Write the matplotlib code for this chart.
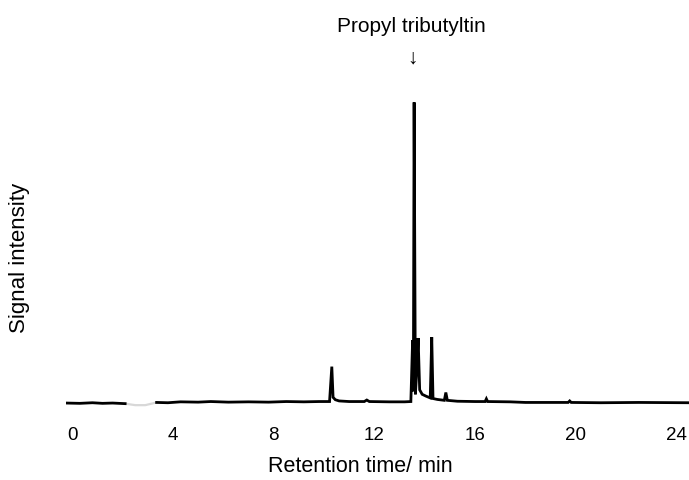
import matplotlib.pyplot as plt
import numpy as np

plt.rcParams['font.family'] = ['Liberation Sans', 'DejaVu Sans']

# chromatogram vertices (time in min, relative signal)
time_min = [-0.25, 0.3, 0.8, 1.2, 1.6, 2.1, np.nan,
            3.35, 3.8, 4.3, 5.0, 5.5, 6.2, 7.0, 7.8, 8.5, 9.2, 9.8,
            10.22, 10.31, 10.36, 10.45, 10.6, 11.0, 11.6, 11.7, 11.8,
            12.6, 13.2, 13.45, 13.52, 13.55, 13.58, 13.63, 13.68, 13.74,
            13.8, 13.9, 14.05, 14.22, 14.28, 14.33, 14.5, 14.78, 14.84,
            14.9, 15.3, 16.0, 16.4, 16.45, 16.5, 17.4, 18.0, 19.0, 19.7,
            19.76, 19.82, 21.0, 22.5, 24.5]
signal = [0.1, 0.0, 0.2, 0.0, 0.1, -0.1, np.nan,
          0.3, 0.2, 0.5, 0.4, 0.6, 0.4, 0.5, 0.4, 0.6, 0.5, 0.6,
          0.6, 12.2, 2.0, 1.2, 0.8, 0.6, 0.6, 1.1, 0.6,
          0.5, 0.5, 0.6, 21.0, 4.0, 100.0, 3.0, 10.0, 21.7,
          4.5, 3.0, 2.4, 1.8, 22.0, 1.6, 1.3, 1.0, 3.6,
          1.0, 0.7, 0.6, 0.6, 1.5, 0.6, 0.5, 0.3, 0.3, 0.3,
          0.8, 0.3, 0.2, 0.3, 0.2]

# faint stretch of the trace around 2-3.4 min
gap_time = [2.1, 2.5, 2.9, 3.35]
gap_signal = [-0.1, -0.6, -0.6, 0.3]

xticks = [0, 4, 8, 12, 16, 20, 24]
peak_label = "Propyl tributyltin"

fig = plt.figure(figsize=(6.89, 4.81), dpi=100)
ax = fig.add_axes([66 / 689, 61 / 481, 623 / 689, 325 / 481])

ax.plot(gap_time, gap_signal, color="#d8d8d8", lw=1.6)
ax.plot(time_min, signal, color="black", lw=2.0, solid_joinstyle="miter")

ax.set_xlim(-0.25, 24.5)
ax.set_ylim(-5.2, 102.76)
for s in ax.spines.values():
    s.set_visible(False)
ax.set_yticks([])
ax.set_xticks(xticks)
ax.set_xticklabels([str(t) for t in xticks])
ax.tick_params(axis="x", length=0, pad=5, labelsize=13.5)

fig.text(360 / 689, 1 - 467 / 481, "Retention time/ min", ha="center", va="center", fontsize=15.5)
fig.text(20 / 689, 1 - 258 / 481, "Signal intensity", ha="center", va="center",
         rotation=90, fontsize=16)
fig.text(411.5 / 689, 1 - 26 / 481, peak_label, ha="center", va="center", fontsize=15)
fig.text(412 / 689, 1 - 58 / 481, "\u2193", ha="center", va="center", fontsize=15)

fig.savefig("out.png", dpi=100)
